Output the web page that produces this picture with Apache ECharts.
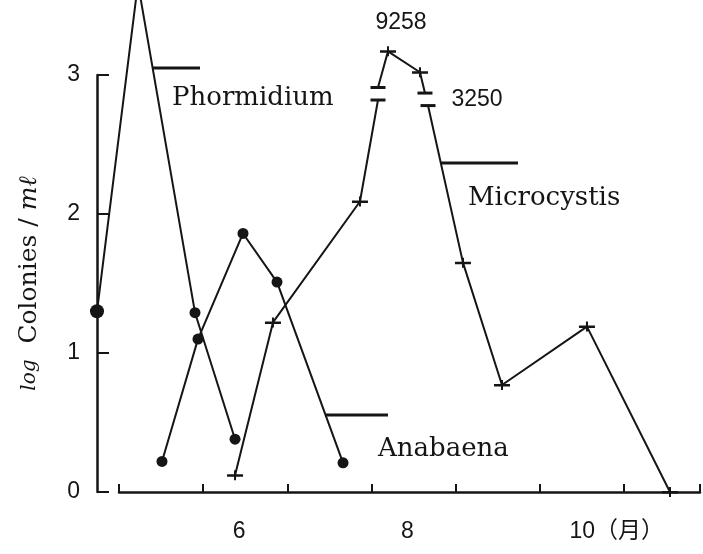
<!DOCTYPE html>
<html><head><meta charset="utf-8">
<script src="https://cdn.jsdelivr.net/npm/echarts@6/dist/echarts.min.js"></script>
<style>html,body{margin:0;padding:0;background:#fff}#c{width:703px;height:554px}</style>
</head><body><div id="c"></div>
<script>
// x values: months elapsed since 1 May ; y values: log Colonies / ml
const phormX = [-0.26, 0.224, 0.898, 1.371];
const phormY = [1.30, 3.66, 1.29, 0.38];
const anabX = [0.508, 0.933, 1.465, 1.867, 2.647];
const anabY = [0.22, 1.10, 1.86, 1.51, 0.21];
const microX = [1.371, 1.819, 2.847, 3.060, 3.060, 3.178, 3.556, 3.615, 3.651, 4.064, 4.525, 5.529, 6.51];
const microY = [0.12, 1.22, 2.09, 2.82, 2.91, 3.17, 3.02, 2.87, 2.78, 1.65, 0.77, 1.19, 0];
const microBreaks = [3, 7];            // axis break after these points
const peakIdx = [5, 6];                 // points annotated with raw counts
const peakCounts = ['9258', '3250'];
const yTicks = [0, 1, 2, 3];
const xLabelMonths = [6, 8, 10];
const xLabelTexts = ['6', '8', '10（月）'];
const seriesNames = ['Phormidium', 'Anabaena', 'Microcystis'];
// leader lines from name labels to curves: [x1, y1, x2, y2] in data units
const phormLeader = [0.40, 3.05, 0.957, 3.05];
const anabLeader = [2.44, 0.554, 3.178, 0.554];
const microLeader = [3.80, 2.367, 4.714, 2.367];

const INK = '#151515';
const NUM_FONT = '"Liberation Sans", Arial, sans-serif';
const SERIF = '"DejaVu Serif", "Liberation Serif", serif';
const plusPath = 'path://M0,4 H16 V6.5 H0 Z M7,0 H9 V10 H7 Z';
const X_MIN = -0.26, X_MAX = 6.9;

const chart = echarts.init(document.getElementById('c'), null, {renderer: 'canvas'});

const phormData = phormX.map((x, i) => ({value: [x, phormY[i]], symbolSize: i === 0 ? 14 : 11}));
const anabData = anabX.map((x, i) => ({value: [x, anabY[i]]}));
const microData = [];
microX.forEach((x, i) => {
  const isBar = microBreaks.includes(i) || microBreaks.includes(i - 1);
  const item = {value: [x, microY[i]], symbol: isBar ? 'rect' : plusPath, symbolSize: isBar ? [15, 3] : [16, 10]};
  const k = peakIdx.indexOf(i);
  if (k >= 0) {
    item.label = {
      show: true, formatter: peakCounts[k], position: 'inside',
      offset: k === 0 ? [13, -29] : [57, 27],
      color: INK, fontFamily: NUM_FONT, fontSize: 23
    };
  }
  microData.push(item);
  if (microBreaks.includes(i)) microData.push({value: [x, '-']});
});

const labelPos = xLabelMonths.map(m => Math.round(((m - 5) + 0.5 - 0.15) * 20) / 20);

const option = {
  backgroundColor: '#fff',
  animation: false,
  grid: [
    {left: 97, right: 0, top: 75, bottom: 62, containLabel: false},
    {left: 119, right: 0, top: 75, bottom: 62, containLabel: false}
  ],
  xAxis: [
    {gridIndex: 0, type: 'value', min: X_MIN, max: X_MAX, show: false},
    {
      gridIndex: 1, type: 'value', min: 0, max: X_MAX, interval: 1, position: 'bottom',
      axisLine: {show: true, onZero: false, lineStyle: {color: INK, width: 2.5}},
      axisTick: {show: true, inside: true, length: 8, lineStyle: {color: INK, width: 2}},
      axisLabel: {show: false}, splitLine: {show: false}
    },
    {
      gridIndex: 1, type: 'value', min: 0, max: X_MAX, interval: 0.05, position: 'bottom',
      axisLine: {show: false, onZero: false}, axisTick: {show: false}, splitLine: {show: false},
      axisLabel: {
        show: true, margin: 28, align: 'left', color: INK,
        fontFamily: NUM_FONT + ', "Noto Sans CJK JP"', fontSize: 23,
        formatter: v => {
          for (let j = 0; j < labelPos.length; j++) if (Math.abs(v - labelPos[j]) < 0.01) return xLabelTexts[j];
          return '';
        }
      }
    }
  ],
  yAxis: [
    {
      gridIndex: 0, type: 'value', min: 0, max: 3, interval: 1,
      axisLine: {show: true, onZero: false, lineStyle: {color: INK, width: 2.5}},
      axisTick: {show: true, inside: true, length: 12, lineStyle: {color: INK, width: 2}},
      axisLabel: {show: true, margin: 17, color: INK, fontFamily: NUM_FONT, fontSize: 23,
        formatter: v => yTicks.includes(v) ? String(v) : ''},
      splitLine: {show: false},
      name: '{i|log}  Colonies / {m|mℓ}', nameLocation: 'middle', nameRotate: 90, nameGap: 55,
      nameTextStyle: {color: INK, fontFamily: SERIF, fontSize: 25,
        rich: {i: {fontStyle: 'italic', fontSize: 20, fontFamily: SERIF, color: INK},
               m: {fontStyle: 'italic', fontSize: 25, fontFamily: SERIF, color: INK}}}
    },
    {gridIndex: 1, type: 'value', min: 0, max: 3, show: false}
  ],
  series: [
    {
      type: 'line', name: seriesNames[0], data: phormData, clip: false, xAxisIndex: 0, yAxisIndex: 0,
      symbol: 'circle', symbolSize: 11, showAllSymbol: true,
      lineStyle: {color: INK, width: 2}, itemStyle: {color: INK}
    },
    {
      type: 'line', name: seriesNames[1], data: anabData, clip: false, xAxisIndex: 0, yAxisIndex: 0,
      symbol: 'circle', symbolSize: 11, showAllSymbol: true,
      lineStyle: {color: INK, width: 2}, itemStyle: {color: INK}
    },
    {
      type: 'line', name: seriesNames[2], data: microData, clip: false, connectNulls: false,
      xAxisIndex: 0, yAxisIndex: 0,
      symbol: plusPath, symbolSize: [16, 10], showAllSymbol: true,
      lineStyle: {color: INK, width: 2}, itemStyle: {color: INK}
    }
  ]
};
chart.setOption(option);

// leader lines and series-name labels, positioned through the chart's own scales
const toPx = p => chart.convertToPixel({xAxisIndex: 0, yAxisIndex: 0}, p);
function leaderLine(c) {
  const a = toPx([c[0], c[1]]), b = toPx([c[2], c[3]]);
  return {type: 'line', silent: true, z: 10,
    shape: {x1: a[0], y1: a[1], x2: b[0], y2: b[1]},
    style: {stroke: INK, lineWidth: 3}};
}
chart.setOption({
  graphic: [
    leaderLine(phormLeader), leaderLine(anabLeader), leaderLine(microLeader),
    {type: 'text', left: 172, top: 85, silent: true,
     style: {text: seriesNames[0], font: '26px ' + SERIF, fill: INK}},
    {type: 'text', left: 378, top: 436, silent: true,
     style: {text: seriesNames[1], font: '26px ' + SERIF, fill: INK}},
    {type: 'text', left: 468, top: 185, silent: true,
     style: {text: seriesNames[2], font: '26px ' + SERIF, fill: INK}}
  ]
});
</script>
</body></html>
